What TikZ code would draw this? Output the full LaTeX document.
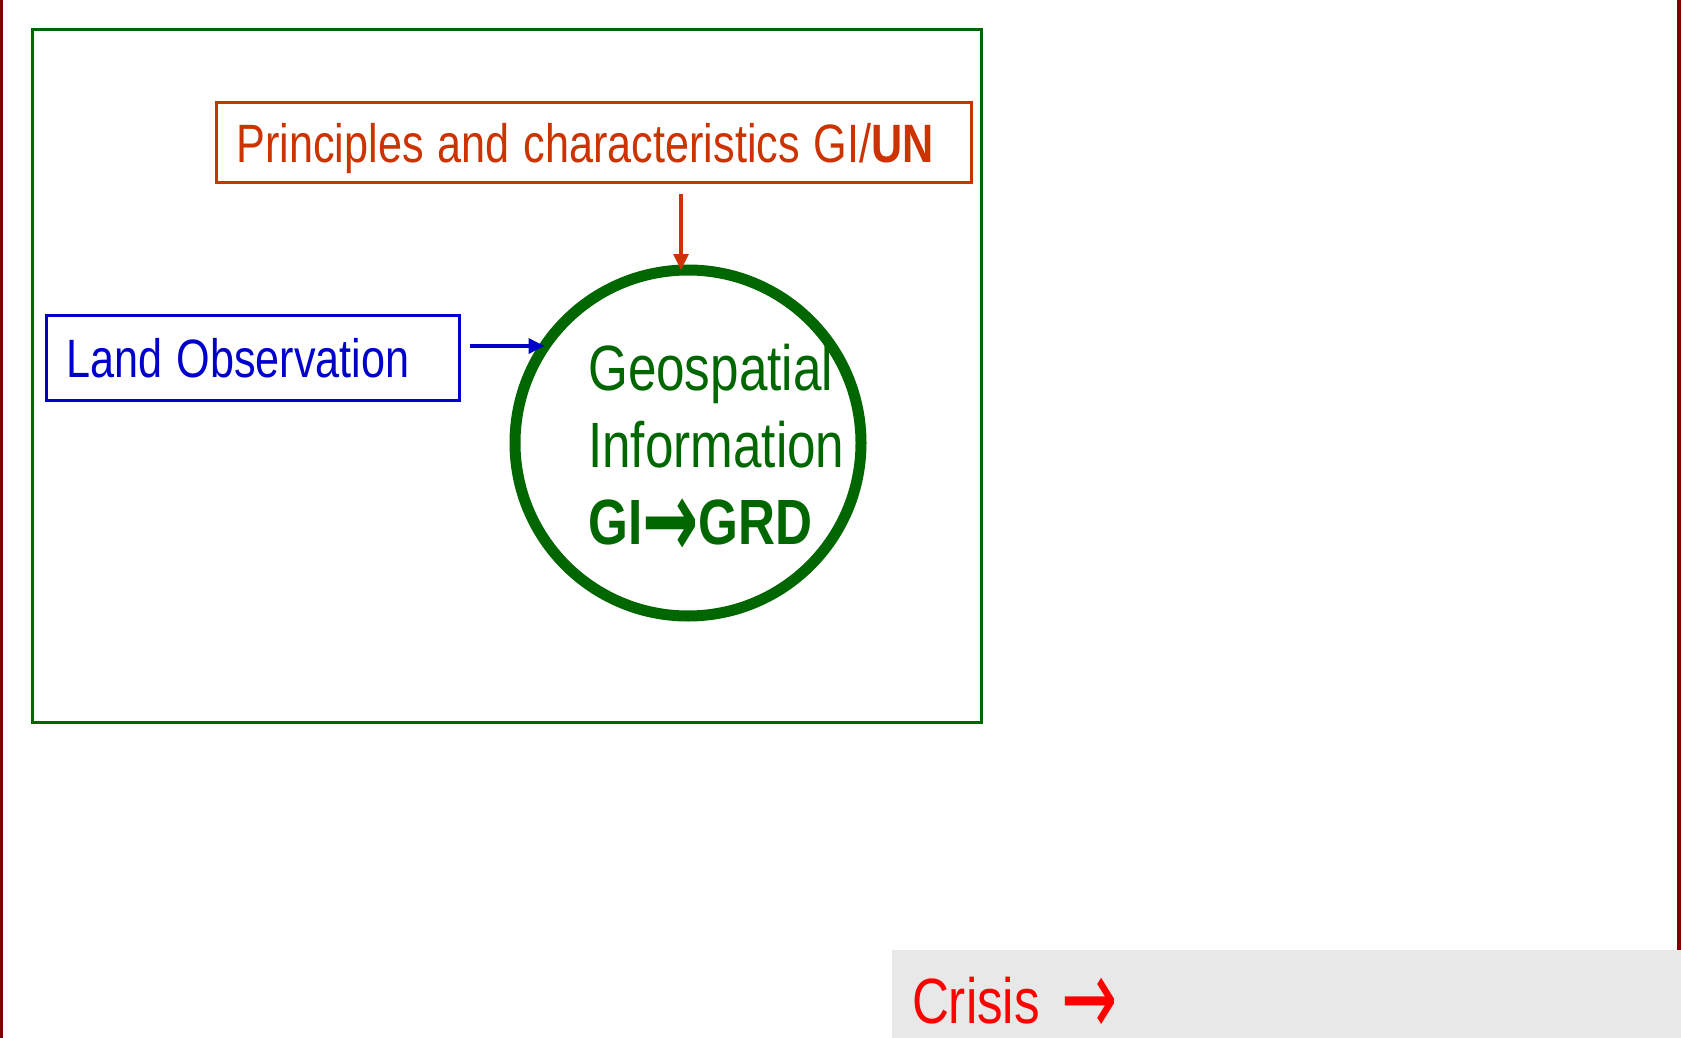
\documentclass[tikz,border=0pt]{standalone}
\usepackage{fontspec}
\usepackage{graphicx}
\setmainfont{Liberation Sans}[FakeStretch=0.8]
\newfontfamily\arrowfont{DejaVu Sans}
\newcommand{\tallarrow}{{\arrowfont\smash{\raisebox{-0.2em}{\scalebox{1.05}[1.7]{→}}}}}
\usetikzlibrary{arrows.meta}
\definecolor{maroonline}{HTML}{800000}
\definecolor{framegreen}{HTML}{006600}
\definecolor{rust}{HTML}{CC3300}
\definecolor{landblue}{HTML}{0000CC}
\definecolor{crisisred}{HTML}{FF0000}
\definecolor{crisisgrey}{HTML}{E8E8E8}
\begin{document}
\begin{tikzpicture}[x=1pt,y=-1pt,
	labelbox/.style={draw, line width=3pt, inner xsep=20pt, inner ysep=0pt, align=left, text depth=0pt, font=\fontsize{54}{60}\selectfont, execute at begin node={\spaceskip=14pt\relax}},
	arr/.style={-{Triangle[length=16pt,width=15pt]}, line width=3.2pt}]
	\useasboundingbox (0,0) rectangle (1681,1038);
	\draw[maroonline, line width=3pt] (1.5,0) -- (1.5,1038);
	\draw[maroonline, line width=4pt] (1679,0) -- (1679,950);
	\draw[framegreen, line width=3pt] (32.5,29.5) rectangle (981.5,722.5);
	\node[labelbox, draw=rust, text=rust, text width=715pt, minimum height=80pt, text height=41pt] (princ) at (594,142.5) {Principles and characteristics GI/\textbf{UN}};
	\node[labelbox, draw=landblue, text=landblue, text width=373pt, minimum height=85pt, text height=38pt] (land) at (253,358) {Land Observation};
	\node[circle, draw=framegreen, line width=11pt, minimum size=346pt, inner sep=0pt, outer sep=0pt] (geo) at (688,443) {};
	\node[anchor=west, inner sep=0pt, align=left, text=framegreen, font=\fontsize{64}{77}\selectfont] (geotext) at ([xshift=-100pt,yshift=-2pt]geo.center) {Geospatial\\Information\\\textbf{GI{\bfseries\tallarrow}GRD}};
	\coordinate (princtail) at (681,194);
	\coordinate (landtail) at (470,346);
	\draw[arr, rust] (princtail) -- (princtail |- geo.north);
	\draw[arr, landblue] (landtail) -- (landtail -| geo.146);
	\node[fill=crisisgrey, inner xsep=20pt, inner ysep=0pt, text width=749pt, minimum height=88pt, align=left, text height=58pt, text depth=0pt, text=crisisred, font=\fontsize{64}{77}\selectfont] (crisis) at (1286.5,994) {Crisis \tallarrow};
\end{tikzpicture}
\end{document}
